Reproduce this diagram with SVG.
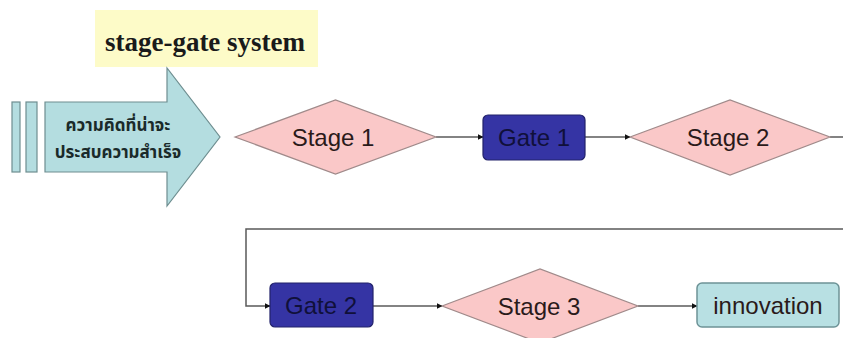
<svg xmlns="http://www.w3.org/2000/svg" width="843" height="338" viewBox="0 0 843 338">
<defs>
<style>
.stage{fill:#fac8c8;stroke:#a08a8a;stroke-width:1.2}
.gate{fill:#3534a4;stroke:#22226a;stroke-width:1.2}
.inno{fill:#b8e0e3;stroke:#6d9397;stroke-width:1.5}
.lbl{font-family:"Liberation Sans",Arial,sans-serif;font-size:24px;fill:#2a1a1a;text-anchor:middle}
.glbl{font-family:"Liberation Sans",Arial,sans-serif;font-size:24px;fill:#10103a;text-anchor:middle}
.conn{fill:none;stroke:#5a5a5a;stroke-width:1.5}
.th{font-family:"Noto Sans Thai","Noto Sans","DejaVu Sans",sans-serif;font-weight:bold;font-size:17px;fill:#1a2a2a;text-anchor:middle}
</style>
<marker id="ah" viewBox="0 0 10 10" refX="9" refY="5" markerWidth="6" markerHeight="6" orient="auto" markerUnits="userSpaceOnUse">
<path d="M0,0 L10,5 L0,10 z" fill="#111"/>
</marker>
</defs>
<rect width="843" height="338" fill="#ffffff"/>
<g id="title">
<rect x="95" y="10" width="223" height="57" fill="#fdfbc8"/>
<text x="205" y="51" font-family="Liberation Serif,'Times New Roman',serif" font-weight="bold" font-size="27" fill="#1a1a1a" text-anchor="middle">stage-gate system</text>
</g>
<g id="idea">
<rect x="12" y="102" width="8" height="70" fill="#b4dde0" stroke="#6e8e90" stroke-width="1.2"/>
<rect x="26" y="102" width="11" height="70" fill="#b4dde0" stroke="#6e8e90" stroke-width="1.2"/>
<path d="M45,102 L167,102 L167,68 L220,137 L167,206 L167,172 L45,172 z" fill="#b4dde0" stroke="#6e8e90" stroke-width="1.2"/>
<text class="th" x="118" y="131">ความคิดที่น่าจะ</text>
<text class="th" x="118" y="158">ประสบความสำเร็จ</text>
</g>
<g id="connectors">
<line class="conn" x1="436" y1="137" x2="483" y2="137" marker-end="url(#ah)"/>
<line class="conn" x1="585" y1="137" x2="630" y2="137" marker-end="url(#ah)"/>
<line class="conn" x1="830" y1="137" x2="843" y2="137"/>
<polyline class="conn" points="843,229 246,229 246,306 270,306" marker-end="url(#ah)"/>
<line class="conn" x1="373" y1="306" x2="442" y2="306" marker-end="url(#ah)"/>
<line class="conn" x1="638" y1="306" x2="697" y2="306" marker-end="url(#ah)"/>
</g>
<g id="stage1">
<polygon class="stage" points="235,137 335.5,100 436,137 335.5,174"/>
<text class="lbl" x="333" y="146">Stage 1</text>
</g>
<g id="gate1">
<rect class="gate" x="483" y="115" width="102" height="45" rx="5"/>
<text class="glbl" x="534" y="146">Gate 1</text>
</g>
<g id="stage2">
<polygon class="stage" points="630,137 730,100 830,137 730,175"/>
<text class="lbl" x="728" y="146">Stage 2</text>
</g>
<g id="gate2">
<rect class="gate" x="270" y="283" width="103" height="44" rx="5"/>
<text class="glbl" x="321" y="314">Gate 2</text>
</g>
<g id="stage3">
<polygon class="stage" points="442,306 540,269 638,306 540,343"/>
<text class="lbl" x="539" y="315">Stage 3</text>
</g>
<g id="innovation">
<rect class="inno" x="697" y="283" width="142" height="44" rx="5"/>
<text class="lbl" x="768" y="314" fill="#1a2a2a">innovation</text>
</g>
</svg>
